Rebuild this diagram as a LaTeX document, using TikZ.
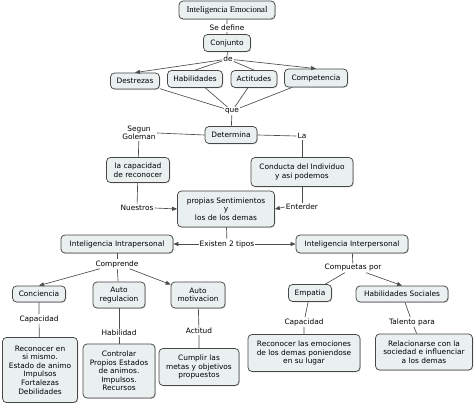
\documentclass[tikz,border=0pt]{standalone}
\usepackage{fontspec}
\setmainfont{DejaVu Sans}
\newfontfamily\titlefont{Liberation Serif}
\usetikzlibrary{arrows.meta,shadows}
\definecolor{boxcol}{RGB}{234,240,240}
\colorlet{edgecol}{black!72!white}
\colorlet{linecol}{black!70!white}
\tikzset{
  concept/.style={draw=edgecol, fill=boxcol, rounded corners=4pt, line width=0.75pt,
    align=center, inner sep=1pt, font=\fontsize{7.4}{8.6}\selectfont,
    drop shadow={shadow xshift=0.8pt, shadow yshift=-0.8pt, opacity=0.35}},
  linklabel/.style={fill=white, inner sep=1pt, align=center,
    font=\fontsize{7.4}{8.2}\selectfont},
  link/.style={draw=linecol, line width=0.65pt},
}

\begin{document}
\begin{tikzpicture}[x=1pt, y=-1pt, >={Triangle[length=5pt,width=4pt]}]

  % Page frame.
  \useasboundingbox (0,0) rectangle (474,403);

  % Top of the map.
  \node[concept, minimum width=96, minimum height=18, font=\titlefont\fontsize{8.7}{10}\selectfont]
    (emocional) at (227,10) {Inteligencia Emocional};
  \node[linklabel] (sedefine) at (227,28) {Se define};
  \node[concept, minimum width=47, minimum height=17] (conjunto) at (227,43) {Conjunto};
  \node[linklabel] (de) at (228,59) {de};

  \node[concept, minimum width=49, minimum height=16] (destrezas) at (135,81) {Destrezas};
  \node[concept, minimum width=55, minimum height=17] (habilidades) at (195,79) {Habilidades};
  \node[concept, minimum width=46, minimum height=17] (actitudes) at (254,79) {Actitudes};
  \node[concept, minimum width=63, minimum height=18] (competencia) at (316,78) {Competencia};
  \node[linklabel] (que) at (232,111) {que};

  % Middle part.
  \node[concept, minimum width=52, minimum height=17] (determina) at (231,135) {Determina};
  \node[linklabel] (segun) at (139,133) {Segun\\Goleman};
  \node[linklabel] (la) at (302,136) {La};
  \node[concept, minimum width=63, minimum height=25] (capacidad) at (138,170)
    {la capacidad\\de reconocer};
  \node[concept, minimum width=102, minimum height=29] (conducta) at (302,172)
    {Conducta del Individuo\\y asi podemos};
  \node[linklabel] (nuestros) at (137,208) {Nuestros};
  \node[concept, minimum width=97, minimum height=36] (sentimientos) at (226,209)
    {propias Sentimientos\\y\\los de los demas};
  \node[linklabel] (enterder) at (302,207) {Enterder};
  \node[linklabel] (tipos) at (227,244) {Existen 2 tipos};

  \node[concept, minimum width=112, minimum height=18] (intra) at (117,244)
    {Inteligencia Intrapersonal};
  \node[concept, minimum width=112, minimum height=18] (inter) at (352,244)
    {Inteligencia Interpersonal};

  % Intrapersonal branch.
  \node[linklabel] (comprende) at (117,264) {Comprende};
  \node[concept, minimum width=53, minimum height=16] (conciencia) at (39,294) {Conciencia};
  \node[concept, minimum width=52, minimum height=26] (regulacion) at (119,295) {Auto\\regulacion};
  \node[concept, minimum width=54, minimum height=26] (motivacion) at (198,295) {Auto\\motivacion};
  \node[linklabel] (capa) at (39,319) {Capacidad};
  \node[linklabel] (habilidad) at (119,333) {Habilidad};
  \node[linklabel] (actitud) at (199,331) {Actitud};
  \node[concept, minimum width=75, minimum height=65] (mismo) at (40,370)
    {Reconocer en\\si mismo.\\Estado de animo\\Impulsos\\Fortalezas\\Debilidades};
  \node[concept, minimum width=72, minimum height=54] (controlar) at (119,371)
    {Controlar\\Propios Estados\\de animos.\\Impulsos.\\Recursos};
  \node[concept, minimum width=80, minimum height=37] (metas) at (199,367)
    {Cumplir las\\metas y objetivos\\propuestos};

  % Interpersonal branch.
  \node[linklabel] (compuetas) at (353,268) {Compuetas por};
  \node[concept, minimum width=43, minimum height=17] (empatia) at (310,293) {Empatia};
  \node[concept, minimum width=92, minimum height=16] (sociales) at (402,294)
    {Habilidades Sociales};
  \node[linklabel] (capb) at (304,322) {Capacidad};
  \node[linklabel] (talento) at (412,322) {Talento para};
  \node[concept, minimum width=112, minimum height=37] (emociones) at (304,353)
    {Reconocer las emociones\\de los demas poniendose\\en su lugar};
  \node[concept, minimum width=97, minimum height=36] (sociedad) at (424,352)
    {Relacionarse con la\\sociedad e influenciar\\a los demas};

  % Connectors.
  \draw[link] (emocional) -- (sedefine) -- (conjunto) -- (de);
  \draw[link, ->] (de) -- (destrezas.north);
  \draw[link] (de) -- (habilidades.north);
  \draw[link] (de) -- (actitudes.north);
  \draw[link, ->] (de) -- (competencia.north);
  \foreach \n in {destrezas,habilidades,actitudes,competencia}
    \draw[link] (\n) -- (que);
  \draw[link] (que) -- (determina);
  \draw[link] (determina.west) -- (segun.east);
  \draw[link] (segun) -- (capacidad);
  \draw[link] (determina.east) -- (la.west);
  \draw[link] (la) -- (conducta);
  \draw[link] (capacidad) -- (nuestros);
  \draw[link, ->] (nuestros.east) -- (sentimientos.west);
  \draw[link] (conducta) -- (enterder);
  \draw[link, ->] (enterder.west) -- (sentimientos.east);
  \draw[link] (sentimientos) -- (tipos);
  \draw[link, ->] (tipos) -- (intra);
  \draw[link, ->] (tipos) -- (inter);

  \draw[link] (intra) -- (comprende);
  \draw[link, ->] (comprende) -- (conciencia.north);
  \draw[link] (comprende) -- (regulacion);
  \draw[link, ->] (comprende) -- (motivacion);
  \draw[link] (conciencia) -- (capa) -- (mismo);
  \draw[link] (regulacion) -- (habilidad) -- (controlar);
  \draw[link] (motivacion) -- (actitud) -- (metas);

  \draw[link] (inter) -- (compuetas);
  \draw[link] (compuetas) -- (empatia);
  \draw[link, ->] (compuetas) -- (sociales.north);
  \draw[link] (empatia) -- (capb) -- (emociones);
  \draw[link] (sociales) -- (talento) -- (sociedad);

\end{tikzpicture}
\end{document}
